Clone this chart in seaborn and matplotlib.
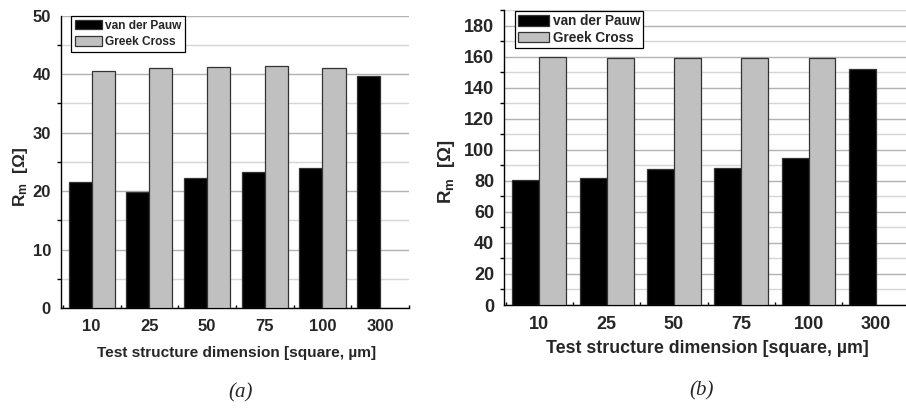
import matplotlib
matplotlib.use("Agg")
import matplotlib.pyplot as plt
from matplotlib.patches import Patch
from matplotlib.ticker import MultipleLocator, FixedLocator
import numpy as np
import pandas as pd
import seaborn as sns

# --- data -------------------------------------------------------------
sizes = ["10", "25", "50", "75", "100", "300"]
methods = ["van der Pauw", "Greek Cross"]

vdp_a = [21.5, 19.8, 22.2, 23.2, 24.0, 39.7]
gc_a = [40.6, 41.1, 41.3, 41.4, 41.1, np.nan]

vdp_b = [80.5, 82.0, 87.6, 88.5, 94.7, 151.8]
gc_b = [159.5, 159.0, 159.0, 159.0, 159.0, np.nan]

bar_colors = {"van der Pauw": "#000000", "Greek Cross": "#c0c0c0"}


def long_frame(vdp, gc):
    df = pd.DataFrame({
        "size": sizes * 2,
        "method": [methods[0]] * len(sizes) + [methods[1]] * len(sizes),
        "value": list(vdp) + list(gc),
    })
    return df.dropna()


sns.set_theme(style="white")
plt.rcParams["font.family"] = ["Liberation Sans", "DejaVu Sans"]
plt.rcParams["font.weight"] = "bold"
plt.rcParams["mathtext.fontset"] = "custom"
plt.rcParams["mathtext.rm"] = "Liberation Sans:bold"
plt.rcParams["mathtext.it"] = "Liberation Sans:bold"
plt.rcParams["mathtext.bf"] = "Liberation Sans:bold"

W, H = 906, 412
fig = plt.figure(figsize=(W / 100, H / 100), dpi=100)
fig.patch.set_facecolor("white")


def px_axes(x0, x1, ytop, ybot):
    return fig.add_axes([x0 / W, 1 - ybot / H, (x1 - x0) / W, (ybot - ytop) / H])


panels = [
    dict(ax=px_axes(60.7, 409.0, 15.7, 308.0), df=long_frame(vdp_a, gc_a),
         ylim=(0, 50), major=10, minor=5, xlim=(-0.537, 5.5),
         fs=12, xfs=11.1, yfs=12.5, lfs=8.6, ls=0.37, bp=0.32,
         leg=(0.029, 1.0), xl=(0.506, -0.154), yl=(-0.114, 0.448)),
    dict(ax=px_axes(504.0, 909.5, 10.1, 305.0), df=long_frame(vdp_b, gc_b),
         ylim=(0, 190), major=20, minor=10, xlim=(-0.525, 5.5),
         fs=13, xfs=12.8, yfs=13.5, lfs=9.8, ls=0.2, bp=0.22,
         leg=(0.027, 0.997), xl=(0.5006, -0.149), yl=(-0.141, 0.451)),
]

for p in panels:
    ax = p["ax"]
    sns.barplot(data=p["df"], x="size", y="value", hue="method",
                order=sizes, hue_order=methods, palette=bar_colors,
                width=0.8, saturation=1, edgecolor="#333333", linewidth=0.9,
                legend=False, ax=ax, zorder=3)

    ax.set_xlim(*p["xlim"])
    ax.set_ylim(*p["ylim"])
    ax.set_axisbelow(True)

    # grid: darker at labelled values, lighter in between
    ax.yaxis.set_major_locator(MultipleLocator(p["major"]))
    ax.yaxis.set_minor_locator(MultipleLocator(p["minor"]))
    ax.grid(axis="y", which="major", color="#b2b2b2", linewidth=1.0, zorder=0)
    ax.grid(axis="y", which="minor", color="#d6d6d6", linewidth=1.0, zorder=0)
    ax.grid(axis="x", visible=False)

    ax.xaxis.set_minor_locator(FixedLocator(np.arange(-0.5, len(sizes), 1.0)))

    for side in ("top", "right"):
        ax.spines[side].set_visible(False)
    for side in ("left", "bottom"):
        ax.spines[side].set_color("black")
        ax.spines[side].set_linewidth(1.0)

    ax.tick_params(axis="y", which="major", direction="out", length=4.5, width=1,
                   color="black", pad=2.5, labelsize=p["fs"])
    ax.tick_params(axis="y", which="minor", direction="out", length=3, width=1,
                   color="black", left=True)
    ax.tick_params(axis="x", which="major", direction="out", length=3.5, width=1,
                   color="black", pad=4.5, labelsize=p["fs"])
    ax.tick_params(axis="x", which="minor", direction="in", length=2.2, width=1,
                   color="black", bottom=True)
    for lab in ax.get_xticklabels() + ax.get_yticklabels():
        lab.set_fontweight("bold")

    ax.set_xlabel("Test structure dimension [square, µm]", fontsize=p["xfs"],
                  fontweight="bold", va="center")
    ax.xaxis.set_label_coords(*p["xl"])
    ax.set_ylabel(r"$\mathrm{R_m}$  [Ω]", fontsize=p["yfs"], fontweight="bold",
                  va="center", ha="center")
    ax.yaxis.set_label_coords(*p["yl"])

    handles = [Patch(facecolor=bar_colors[m], edgecolor="#333333", linewidth=0.9)
               for m in methods]
    leg = ax.legend(handles, methods, loc="upper left", bbox_to_anchor=p["leg"],
                    borderaxespad=0, frameon=True, fancybox=False, framealpha=1,
                    edgecolor="black", prop={"weight": "bold", "size": p["lfs"]},
                    handlelength=2.3, handleheight=0.85, handletextpad=0.25,
                    labelspacing=p["ls"], borderpad=p["bp"])
    leg.get_frame().set_linewidth(0.9)
    leg.set_zorder(5)

fig.text(241 / W, 1 - 393 / H, "(a)", ha="center", va="center",
         family="Liberation Serif", style="italic", fontweight="normal", fontsize=15)
fig.text(702 / W, 1 - 391 / H, "(b)", ha="center", va="center",
         family="Liberation Serif", style="italic", fontweight="normal", fontsize=15)

fig.savefig("out.png", dpi=100, facecolor="white")
